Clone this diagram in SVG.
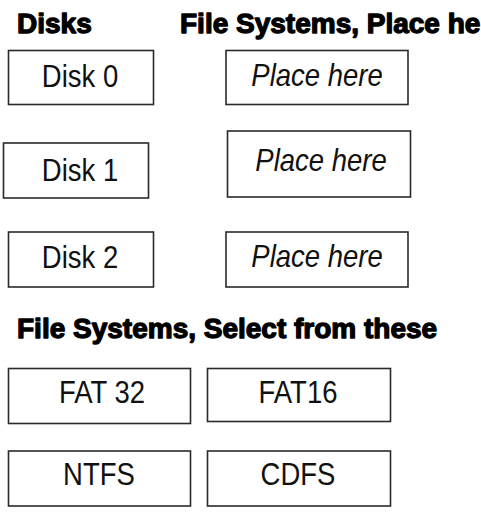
<svg xmlns="http://www.w3.org/2000/svg" width="481" height="517" viewBox="0 0 481 517">
<style>
.box{fill:#fff;stroke:#2a2a2a;stroke-width:1.6}
.lbl{font-family:"Liberation Sans",Arial,sans-serif;font-size:27.5px;fill:#111;text-anchor:middle}
.it{font-style:italic}
.hd{font-family:"Liberation Sans",Arial,sans-serif;font-size:28px;font-weight:bold;fill:#000;stroke:#000;stroke-width:1.3;stroke-linejoin:round}
</style>
<rect width="481" height="517" fill="#fff"/>
<g id="headings">
<text class="hd" x="17" y="33">Disks</text>
<text class="hd" x="180" y="33">File Systems, Place here</text>
<text class="hd" x="17" y="338">File Systems, Select from these</text>
</g>
<g id="disk0"><rect class="box" x="8.5" y="50.5" width="145" height="54"/><text class="lbl" transform="translate(80,87) scale(1,1.12)">Disk 0</text></g>
<g id="place0"><rect class="box" x="226" y="50.5" width="182" height="54"/><text class="lbl it" transform="translate(317,86) scale(1,1.12)">Place here</text></g>
<g id="disk1"><rect class="box" x="3.5" y="143" width="145" height="55"/><text class="lbl" transform="translate(80,181) scale(1,1.12)">Disk 1</text></g>
<g id="place1"><rect class="box" x="227.5" y="131" width="183" height="66"/><text class="lbl it" transform="translate(321,171) scale(1,1.12)">Place here</text></g>
<g id="disk2"><rect class="box" x="8.5" y="232" width="145" height="55"/><text class="lbl" transform="translate(80,268) scale(1,1.12)">Disk 2</text></g>
<g id="place2"><rect class="box" x="226" y="232" width="182" height="55"/><text class="lbl it" transform="translate(317,267) scale(1,1.12)">Place here</text></g>
<g id="fat32"><rect class="box" x="8.5" y="368.5" width="182" height="55"/><text class="lbl" transform="translate(102,403) scale(1,1.12)">FAT 32</text></g>
<g id="fat16"><rect class="box" x="207.5" y="368.5" width="183" height="53"/><text class="lbl" transform="translate(298,403) scale(1,1.12)">FAT16</text></g>
<g id="ntfs"><rect class="box" x="8.5" y="451" width="182" height="55"/><text class="lbl" transform="translate(99,485) scale(1,1.12)">NTFS</text></g>
<g id="cdfs"><rect class="box" x="207.5" y="451" width="183" height="55"/><text class="lbl" transform="translate(298,485) scale(1,1.12)">CDFS</text></g>
<g id="connectors"/>
</svg>
